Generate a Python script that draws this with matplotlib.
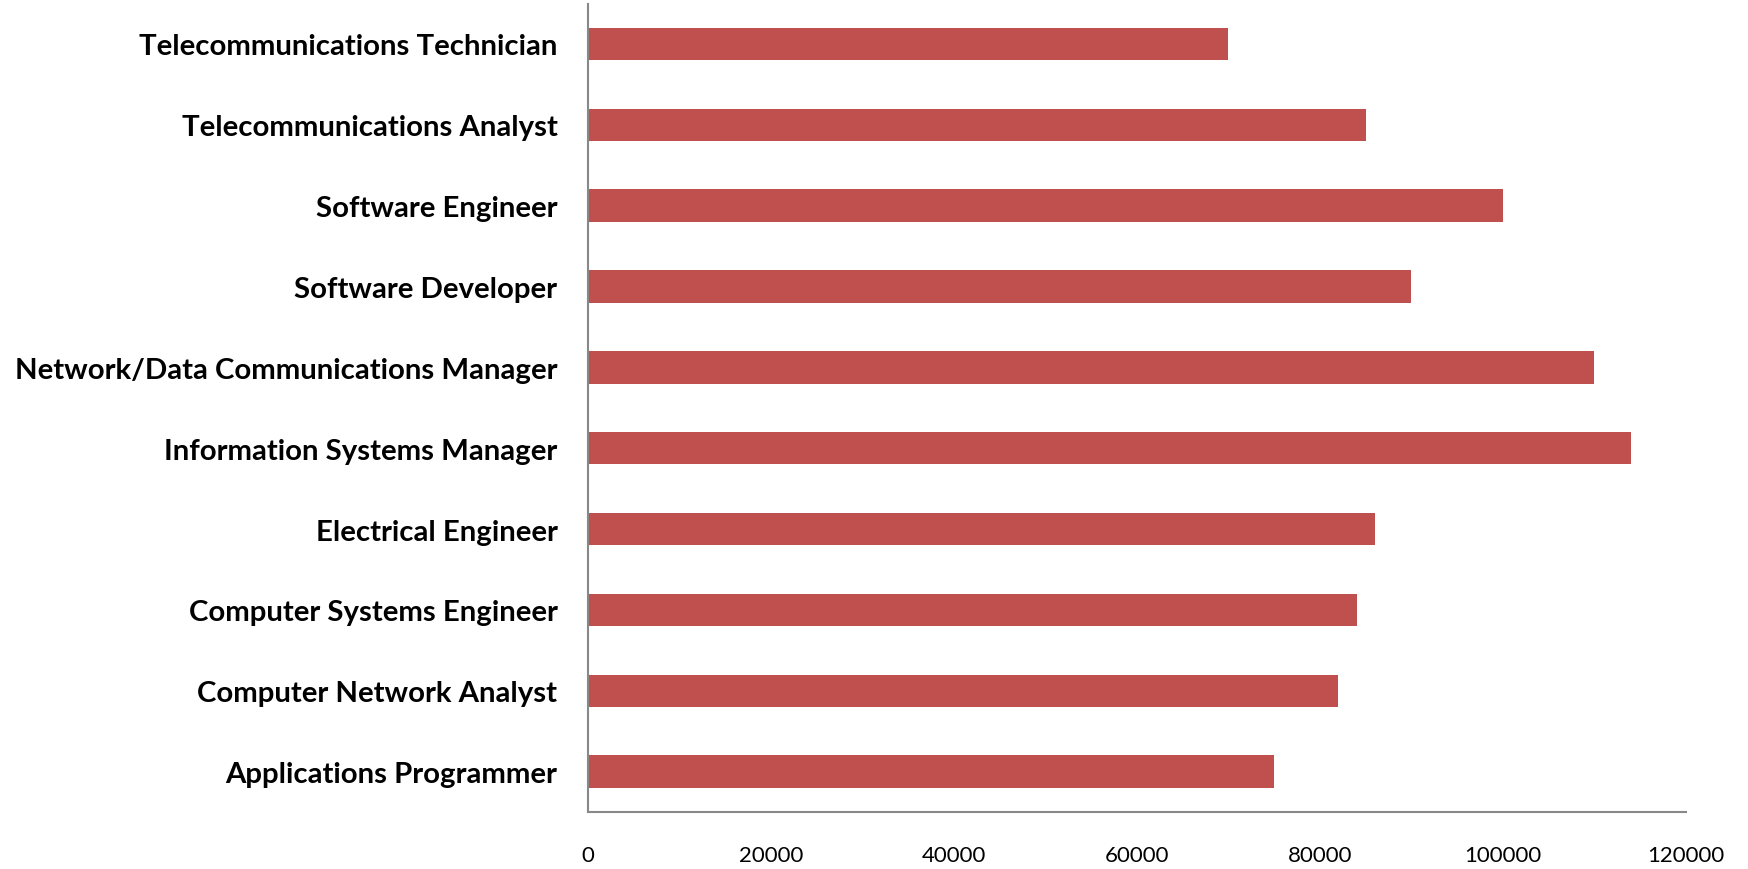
import matplotlib
matplotlib.use("Agg")
import matplotlib.pyplot as plt

# Job titles, bottom to top as they appear on the chart
jobs = ["Applications Programmer", "Computer Network Analyst",
        "Computer Systems Engineer", "Electrical Engineer",
        "Information Systems Manager", "Network/Data Communications Manager",
        "Software Developer", "Software Engineer",
        "Telecommunications Analyst", "Telecommunications Technician"]
salary = [75000, 82000, 84000, 86000, 114000, 110000, 90000, 100000, 85000, 70000]

xticks = [0, 20000, 40000, 60000, 80000, 100000, 120000]

fig = plt.figure(figsize=(17.48, 8.70), dpi=100)
ax = fig.add_axes([0.3364, 0.0655, 0.6281, 0.9293])

ax.barh(range(len(jobs)), salary, height=0.4, color="#C0504D")

ax.set_xlim(0, 120000)
ax.set_ylim(-0.5, len(jobs) - 0.5)
ax.set_xticks(xticks)
ax.set_xticklabels([str(t) for t in xticks], family="Lato", fontsize=16)
ax.set_yticks(range(len(jobs)))
ax.set_yticklabels(jobs, family="Lato", fontweight="bold", fontsize=21.2)
ax.tick_params(axis="x", length=0, pad=24)
ax.tick_params(axis="y", length=0, pad=22)

for s in ["top", "right"]:
    ax.spines[s].set_visible(False)
for s in ["left", "bottom"]:
    ax.spines[s].set_color("#888888")
    ax.spines[s].set_linewidth(1.5)

fig.savefig("out.png", dpi=100)
